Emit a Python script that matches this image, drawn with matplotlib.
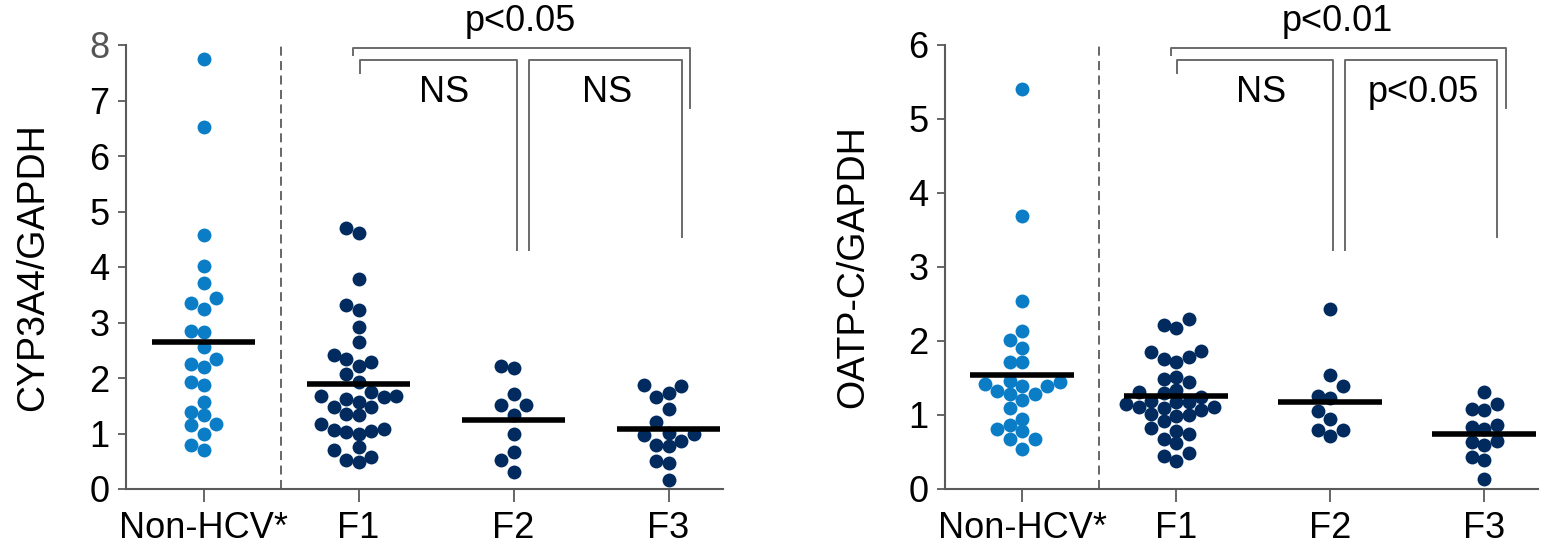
import numpy as np
import matplotlib
matplotlib.use('Agg')
import matplotlib.pyplot as plt
from matplotlib.transforms import blended_transform_factory

plt.rcParams['font.family'] = ['Liberation Sans', 'DejaVu Sans']

categories = ['Non-HCV*', 'F1', 'F2', 'F3']

# ---- CYP3A4/GAPDH values ----
cyp_nonhcv = [7.74, 6.53, 4.58, 4.01, 3.71, 3.44, 3.36, 3.24, 2.82, 2.85, 2.55, 2.35,
              2.26, 2.19, 1.88, 1.92, 1.56, 1.39, 1.33, 1.18, 1.15, 0.99, 0.79, 0.70]
cyp_f1 = [4.71, 4.61, 3.78, 3.32, 3.23, 2.91, 2.65, 2.41, 2.35, 2.22, 2.28, 2.07,
          1.93, 1.68, 1.74, 1.56, 1.62, 1.47, 1.68, 1.65, 1.48, 1.36, 1.33, 1.17,
          1.03, 1.00, 1.06, 1.08, 1.05, 0.70, 0.76, 0.57, 0.49, 0.52]
cyp_f2 = [2.22, 2.18, 1.71, 1.51, 1.52, 1.33, 0.99, 0.67, 0.52, 0.31]
cyp_f3 = [1.73, 1.87, 1.86, 1.66, 1.45, 1.21, 0.99, 0.97, 1.01, 0.87, 0.79, 0.78,
          0.50, 0.46, 0.16]
cyp_means = [2.65, 1.89, 1.25, 1.08]

# ---- OATP-C/GAPDH values ----
oatp_nonhcv = [5.41, 3.69, 2.54, 2.14, 2.02, 1.91, 1.71, 1.71, 1.46, 1.42, 1.39, 1.39,
               1.44, 1.33, 1.29, 1.28, 1.20, 1.10, 0.95, 0.86, 0.81, 0.78, 0.68, 0.67, 0.54]
oatp_f1 = [2.22, 2.18, 2.30, 1.85, 1.86, 1.78, 1.72, 1.76, 1.52, 1.48, 1.44, 1.34,
           1.31, 1.30, 1.24, 1.19, 1.15, 1.18, 1.17, 1.11, 1.10, 1.11, 1.07, 1.02,
           0.99, 1.00, 0.92, 0.82, 0.79, 0.74, 0.67, 0.62, 0.48, 0.44, 0.38]
oatp_f2 = [2.43, 1.54, 1.39, 1.23, 1.26, 1.05, 0.95, 0.80, 0.80, 0.71]
oatp_f3 = [1.31, 1.15, 1.07, 1.08, 0.81, 0.84, 0.86, 0.65, 0.63, 0.60, 0.43, 0.39, 0.13]
oatp_means = [1.545, 1.26, 1.17, 0.75]

cyp_yticks = [0, 1, 2, 3, 4, 5, 6, 7, 8]
oatp_yticks = [0, 1, 2, 3, 4, 5, 6]

cyp_label = 'CYP3A4/GAPDH'
oatp_label = 'OATP-C/GAPDH'

cyp_stats = {'outer': 'p<0.05', 'left': 'NS', 'right': 'NS'}
oatp_stats = {'outer': 'p<0.01', 'left': 'NS', 'right': 'p<0.05'}

LIGHT = '#0a7dc6'
DARK = '#012a5e'
GREY = '#5a5a5a'
FS = 26

W, H = 1551, 550
fig = plt.figure(figsize=(W / 100, H / 100), dpi=100)
ax1 = fig.add_axes([126 / W, 61 / H, 596.8 / W, 444 / H])
ax2 = fig.add_axes([945 / W, 61 / H, 592.9 / W, 444 / H])


def swarm_offsets(ax, xc, values, slot_px=12.5, min_dist=12.0):
    vals = np.asarray(values, dtype=float)
    pts = ax.transData.transform(np.column_stack([np.full(len(vals), xc), vals]))
    ys = pts[:, 1]
    px_per_unit = (ax.transData.transform((1, 0)) - ax.transData.transform((0, 0)))[0]
    order = np.argsort(ys)
    placed = []
    offs = np.zeros(len(vals))
    for i in order:
        y = ys[i]
        k = 0
        done = False
        while not done:
            cands = [0] if k == 0 else [-k, k]
            for s in cands:
                xo = s * slot_px
                ok = all((xo - px) ** 2 + (y - py) ** 2 >= min_dist ** 2 for px, py in placed)
                if ok:
                    placed.append((xo, y))
                    offs[i] = xo / px_per_unit
                    done = True
                    break
            k += 1
    return offs


def draw_panel(ax, groups, means, yticks, ylabel, stats):
    ymax = yticks[-1]
    ax.set_xlim(-0.5, 3.35)
    ax.set_ylim(0, ymax)
    for sp in ['top', 'right']:
        ax.spines[sp].set_visible(False)
    for sp in ['left', 'bottom']:
        ax.spines[sp].set_color(GREY)
        ax.spines[sp].set_linewidth(1.5)
    ax.set_xticks(range(len(categories)))
    ax.set_xticklabels(categories, fontsize=FS)
    ax.set_yticks(yticks)
    ax.set_yticklabels([str(t) for t in yticks], fontsize=FS)
    ax.tick_params(axis='y', length=6, width=1.3, color=GREY, pad=6)
    ax.tick_params(axis='x', length=9, width=1.3, color=GREY, pad=7)
    ax.set_ylabel(ylabel, fontsize=FS + 1, va='center')
    ax.yaxis.set_label_coords(-0.155, 0.5)

    # dashed separator between control and HCV groups
    ax.axvline(0.5, color=GREY, lw=1.3, ls=(0, (5, 3)), zorder=1)

    for i, vals in enumerate(groups):
        offs = swarm_offsets(ax, i, vals)
        color = LIGHT if i == 0 else DARK
        ax.scatter(np.full(len(vals), i) + offs, vals, s=100, color=color,
                   linewidths=0, zorder=3, clip_on=False)
        ax.hlines(means[i], i - 0.335, i + 0.335, color='black', lw=4, zorder=4)

    # significance brackets (x in data, y in axes fraction)
    tr = blended_transform_factory(ax.transData, ax.transAxes)
    kw = dict(color='#6a6a6a', lw=1.4, transform=tr, clip_on=False, zorder=2)
    # outer F1 vs F3
    ax.plot([0.965, 0.965, 3.14, 3.14], [0.977, 0.993, 0.993, 0.858], **kw)
    # inner F1 vs F2
    ax.plot([1.008, 1.008, 2.02, 2.02], [0.938, 0.966, 0.966, 0.538], **kw)
    # inner F2 vs F3
    ax.plot([2.10, 2.10, 3.087, 3.087], [0.538, 0.966, 0.966, 0.568], **kw)
    ax.text(2.045, 1.052, stats['outer'], transform=tr, ha='center', va='center',
            fontsize=FS)
    ax.text(1.55, 0.892, stats['left'], transform=tr, ha='center', va='center',
            fontsize=FS)
    ax.text(2.605, 0.892, stats['right'], transform=tr, ha='center', va='center',
            fontsize=FS)


draw_panel(ax1, [cyp_nonhcv, cyp_f1, cyp_f2, cyp_f3], cyp_means, cyp_yticks,
           cyp_label, cyp_stats)
draw_panel(ax2, [oatp_nonhcv, oatp_f1, oatp_f2, oatp_f3], oatp_means, oatp_yticks,
           oatp_label, oatp_stats)

# top tick label of the left panel is lighter in the original
ax1.get_yticklabels()[-1].set_color('#555555')

fig.savefig('out.png', dpi=100)
